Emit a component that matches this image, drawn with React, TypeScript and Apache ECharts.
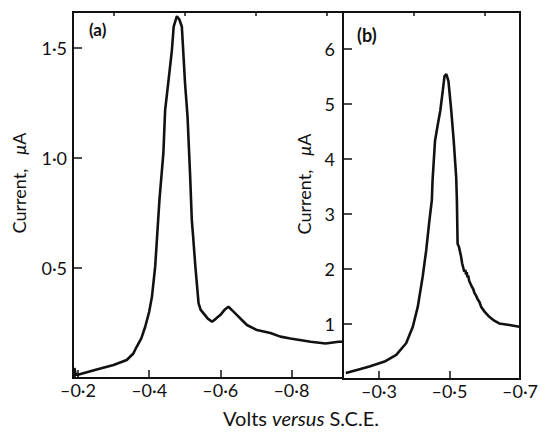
import React, { useEffect, useRef } from "react";
import * as echarts from "echarts";

// Panel (a)
const voltsA = [-0.19, -0.19, -0.193, -0.2, -0.25, -0.3, -0.337, -0.355, -0.365, -0.378, -0.389, -0.4, -0.408, -0.417, -0.423, -0.429, -0.44, -0.445, -0.455, -0.464, -0.469, -0.478, -0.485, -0.492, -0.501, -0.508, -0.515, -0.52, -0.523, -0.53, -0.539, -0.545, -0.553, -0.565, -0.577, -0.588, -0.6, -0.612, -0.623, -0.635, -0.647, -0.66, -0.675, -0.703, -0.741, -0.769, -0.797, -0.854, -0.896, -0.933, -0.945];
const currentA = [0.0, 0.045, 0.02, 0.015, 0.037, 0.059, 0.082, 0.11, 0.142, 0.18, 0.233, 0.3, 0.37, 0.506, 0.658, 0.81, 1.021, 1.218, 1.36, 1.49, 1.597, 1.645, 1.63, 1.597, 1.339, 1.188, 0.93, 0.718, 0.658, 0.506, 0.339, 0.31, 0.294, 0.27, 0.256, 0.27, 0.286, 0.31, 0.324, 0.305, 0.286, 0.265, 0.241, 0.218, 0.205, 0.188, 0.18, 0.165, 0.157, 0.165, 0.165];

// Panel (b)
const voltsB = [-0.206, -0.24, -0.273, -0.316, -0.349, -0.377, -0.396, -0.41, -0.424, -0.434, -0.443, -0.45, -0.452, -0.459, -0.467, -0.474, -0.481, -0.486, -0.491, -0.497, -0.505, -0.512, -0.519, -0.521, -0.523, -0.527, -0.533, -0.536, -0.538, -0.542, -0.545, -0.547, -0.549, -0.551, -0.553, -0.556, -0.559, -0.563, -0.567, -0.571, -0.575, -0.58, -0.585, -0.59, -0.6, -0.613, -0.627, -0.641, -0.67, -0.698];
const currentB = [0.107, 0.17, 0.227, 0.317, 0.44, 0.65, 0.95, 1.31, 1.86, 2.34, 2.88, 3.25, 3.61, 4.33, 4.63, 4.88, 5.24, 5.51, 5.54, 5.42, 4.88, 4.33, 3.67, 3.25, 2.46, 2.4, 2.22, 2.1, 2.05, 1.95, 1.98, 1.9, 1.94, 1.85, 1.88, 1.78, 1.74, 1.68, 1.64, 1.56, 1.52, 1.45, 1.4, 1.31, 1.22, 1.13, 1.06, 1.01, 0.98, 0.95];

// Ticks
const xMajorA = [-0.2, -0.4, -0.6, -0.8];
const xMinorA = [-0.3, -0.5, -0.7, -0.9];
const yTicksA = [0.5, 1.0, 1.5];
const xMajorB = [-0.3, -0.5, -0.7];
const xMinorB = [-0.4, -0.6];
const yTicksB = [1, 2, 3, 4, 5, 6];

const FONT = "Lato, 'Open Sans', sans-serif";
const INK = "#111";

const fmtDot = (v: number) => {
  const s = Math.abs(v) < 1e-9 ? "0" : v.toFixed(1);
  return s.replace("-", "–").replace(".", "·");
};

export default function App() {
  const ref = useRef<HTMLDivElement>(null);
  useEffect(() => {
    if (!ref.current) return;
    const chart = echarts.init(ref.current, null, { renderer: "svg" });
    const axisLine = { show: true, lineStyle: { color: INK, width: 2 } };
    const labelStyle = { color: INK, fontFamily: FONT, fontSize: 18 };
    const zip = (xs: number[], ys: number[]) => xs.map((x, i) => [x, ys[i]]);
    const yLabelRich = {
      n: { fontFamily: FONT, fontSize: 18, fill: INK },
      g: { fontFamily: FONT, fontSize: 18, fill: INK, width: 14 },
      m: { fontFamily: FONT, fontSize: 18, fontStyle: "italic", fill: INK },
    };

    chart.setOption({
      animation: false,
      backgroundColor: "#fff",
      grid: [
        { left: 73, top: 12, width: 270, height: 366, show: true, borderColor: INK, borderWidth: 2, backgroundColor: "transparent" },
        { left: 343, top: 12, width: 178, height: 367, show: true, borderColor: INK, borderWidth: 2, backgroundColor: "transparent" },
      ],
      xAxis: [
        {
          type: "value", gridIndex: 0, inverse: true, min: -0.945, max: -0.186,
          axisLine, splitLine: { show: false },
          axisTick: { show: true, inside: true, length: 8, lineStyle: { color: INK, width: 1.5 }, customValues: xMajorA },
          axisLabel: { ...labelStyle, margin: 3, customValues: xMajorA, formatter: (v: number) => fmtDot(v) },
        },
        {
          type: "value", gridIndex: 0, inverse: true, min: -0.945, max: -0.186,
          axisLine: { show: false }, splitLine: { show: false },
          axisTick: { show: true, inside: true, length: 4, lineStyle: { color: INK, width: 1.5 }, customValues: xMinorA },
          axisLabel: { show: false },
        },
        {
          type: "value", gridIndex: 1, inverse: true, min: -0.7, max: -0.198,
          axisLine, splitLine: { show: false },
          axisTick: { show: true, inside: true, length: 8, lineStyle: { color: INK, width: 1.5 }, customValues: xMajorB },
          axisLabel: { ...labelStyle, margin: 3, customValues: xMajorB, formatter: (v: number) => fmtDot(v) },
        },
        {
          type: "value", gridIndex: 1, inverse: true, min: -0.7, max: -0.198,
          axisLine: { show: false }, splitLine: { show: false },
          axisTick: { show: true, inside: true, length: 4, lineStyle: { color: INK, width: 1.5 }, customValues: xMinorB },
          axisLabel: { show: false },
        },
      ],
      yAxis: [
        {
          type: "value", gridIndex: 0, min: 0, max: 1.664,
          axisLine, splitLine: { show: false },
          axisTick: { show: true, inside: true, length: 9, lineStyle: { color: INK, width: 1.5 }, customValues: yTicksA },
          axisLabel: { ...labelStyle, margin: 6, customValues: yTicksA, formatter: (v: number) => fmtDot(v) },
        },
        {
          type: "value", gridIndex: 1, min: 0, max: 6.67,
          axisLine, splitLine: { show: false },
          axisTick: { show: true, inside: true, length: 9, lineStyle: { color: INK, width: 1.5 }, customValues: yTicksB },
          axisLabel: { ...labelStyle, margin: 8, customValues: yTicksB, formatter: (v: number) => String(v) },
        },
      ],
      series: [
        {
          type: "line", xAxisIndex: 0, yAxisIndex: 0, data: zip(voltsA, currentA),
          showSymbol: false, lineStyle: { color: INK, width: 2.6 }, z: 5,
        },
        {
          type: "line", xAxisIndex: 2, yAxisIndex: 1, data: zip(voltsB, currentB),
          showSymbol: false, lineStyle: { color: INK, width: 2.6 }, z: 5,
        },
      ],
      graphic: [
        {
          type: "text", left: 89, top: 21,
          style: { text: "(a)", fill: INK, font: `bold 17px ${FONT}` },
        },
        {
          type: "text", left: 357, top: 26,
          style: { text: "(b)", fill: INK, font: `bold 18px ${FONT}` },
        },
        {
          type: "text", x: 19, y: 183, rotation: Math.PI / 2,
          style: {
            text: "{n|Current,}{g| }{m|μ}{n|A}",
            align: "center", verticalAlign: "middle",
            rich: yLabelRich,
          },
        },
        {
          type: "text", x: 304, y: 184, rotation: Math.PI / 2,
          style: {
            text: "{n|Current,}{g| }{m|μ}{n|A}",
            align: "center", verticalAlign: "middle",
            rich: yLabelRich,
          },
        },
        {
          type: "text", x: 301, y: 418,
          style: {
            text: "{n|Volts }{i|versus}{n| S.C.E.}",
            align: "center", verticalAlign: "middle",
            rich: {
              n: { fontFamily: FONT, fontSize: 20, fill: INK },
              i: { fontFamily: FONT, fontSize: 20, fontStyle: "italic", fill: INK },
            },
          },
        },
      ],
    });
    return () => chart.dispose();
  }, []);
  return <div ref={ref} style={{ width: 541, height: 432, position: "absolute", left: 0, top: 0 }} />;
}
